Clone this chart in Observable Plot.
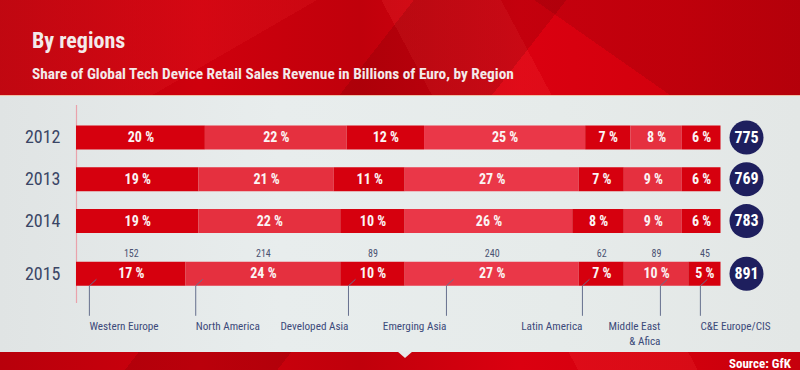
<!DOCTYPE html>
<html><head><meta charset="utf-8">
<script src="https://cdn.jsdelivr.net/npm/d3@7"></script>
<script src="https://cdn.jsdelivr.net/npm/@observablehq/plot@0.6"></script>
<style>
html,body{margin:0;padding:0;width:800px;height:370px;overflow:hidden;background:#c2000c;}
#page{position:relative;width:800px;height:370px;overflow:hidden;
  font-family:Roboto,"DejaVu Sans",sans-serif;font-stretch:75%;
  background:
    linear-gradient(128deg, transparent 0 38%, rgba(90,0,0,0.18) 38% 52%, transparent 52%),
    linear-gradient(62deg, transparent 0 58%, rgba(255,70,70,0.16) 58% 70%, transparent 70%),
    linear-gradient(150deg, rgba(255,60,60,0.12) 0 22%, transparent 22%),
    linear-gradient(35deg, transparent 0 80%, rgba(80,0,0,0.15) 80%),
    linear-gradient(90deg,#b8000b 0%,#cf000d 25%,#c0000b 45%,#db0010 65%,#d2000d 85%,#c6000c 100%);}
#panel{position:absolute;left:0;top:95px;width:800px;height:256px;
  background:linear-gradient(90deg,#e0e4e4 0%,#e8eded 35%,#e6ebea 70%,#e3e7e6 100%);
  border-top:1px solid #efbfa6;}
#notch{position:absolute;left:397px;top:351px;width:0;height:0;
  border-left:8px solid transparent;border-right:8px solid transparent;border-top:7px solid #e6eaea;}
#title{position:absolute;left:32px;top:28px;color:#f3eaea;font-weight:bold;font-size:22px;white-space:nowrap;}
#subtitle{position:absolute;left:32px;top:65px;color:#f3eaea;font-weight:bold;font-size:15.3px;white-space:nowrap;}
#source{position:absolute;left:729px;top:356px;color:#fff;font-weight:bold;font-size:13px;white-space:nowrap;}
#chart{position:absolute;left:0;top:0;}
#chart svg text{font-stretch:75%;}
</style></head>
<body>
<div id="page">
  <div id="panel"></div>
  <div id="notch"></div>
  <div id="title">By regions</div>
  <div id="subtitle">Share of Global Tech Device Retail Sales Revenue in Billions of Euro, by Region</div>
  <div id="source">Source: GfK</div>
  <div id="chart"></div>
</div>
<script>
// ---- data ----
const years = [2012, 2013, 2014, 2015];
const regions = ["Western Europe", "North America", "Developed Asia", "Emerging Asia", "Latin America", "Middle East\n& Afica", "C&E Europe/CIS"];
const share2012 = [20, 22, 12, 25, 7, 8, 6];
const share2013 = [19, 21, 11, 27, 7, 9, 6];
const share2014 = [19, 22, 10, 26, 8, 9, 6];
const share2015 = [17, 24, 10, 27, 7, 10, 5];
const totals = [775, 769, 783, 891];
const revenue2015 = [152, 214, 89, 240, 62, 89, 45];

// ---- layout (annotation placement, not data) ----
const leaderX = [2.0, 18.5, 42.2, 57.4, 78.5, 90.6, 96.8];
const labelAnchor = ["start", "start", "end", "end", "end", "end", "start"];
const segColors = ["#d6000e", "#e5303f", "#d6000e", "#ea3748", "#d6000e", "#e5303f", "#d6000e"];
const FONT = 'Roboto,"DejaVu Sans",sans-serif';
const extraGapBefore2015 = 0.26; // extra row spacing for the labelled 2015 row

const shares = [share2012, share2013, share2014, share2015];
const rows = years.flatMap((year, i) => {
  let acc = 0;
  return shares[i].map((v, j) => {
    const x1 = acc; acc += v;
    return {year, region: regions[j], idx: j, share: v, x1, x2: acc};
  });
});
const rows2015 = rows.filter(d => d.year === 2015).map(d => ({...d, revenue: revenue2015[d.idx]}));
const totalRows = years.map((year, i) => ({year, total: totals[i]}));
const leaders = regions.map((region, j) => ({region, year: 2015, lx: leaderX[j], anchor: labelAnchor[j]}));

const leaderSymbol = {
  draw(context) {
    context.moveTo(7, 5.5);
    context.lineTo(0, 12);
    context.lineTo(0, 42);
  }
};

const chart = Plot.plot({
  width: 800, height: 370,
  marginLeft: 76, marginRight: 79, marginTop: 105, marginBottom: 67,
  style: {background: "transparent", fontFamily: FONT},
  x: {domain: [0, 100], range: [76, 720.5], axis: null},
  y: {type: "linear", transform: yr => yr >= 2015 ? yr + extraGapBefore2015 : yr,
      domain: [2012, 2015 + extraGapBefore2015], range: [137, 273.3], axis: null},
  color: {domain: regions, range: segColors},
  marks: [
    Plot.ruleX([0], {stroke: "#eaa2ab", strokeWidth: 1.2}),
    Plot.ruleY(rows, {y: "year", x1: "x1", x2: "x2", stroke: "region", strokeWidth: 24}),
    Plot.text(rows, {x: d => (d.x1 + d.x2) / 2, y: "year", text: d => d.share + " %", fill: "#fbf4f4", fontWeight: "bold", fontSize: 14}),
    Plot.text(years, {x: () => 0, y: d => d, dx: -16, textAnchor: "end", text: d => String(d), fontSize: 18, fill: "#3a4565"}),
    Plot.dot(totalRows, {x: () => 100, y: "year", dx: 25.5, r: 17, fill: "#1e1f5e", stroke: "none"}),
    Plot.text(totalRows, {x: () => 100, y: "year", dx: 25.5, text: d => String(d.total), fill: "#ffffff", fontWeight: "bold", fontSize: 16}),
    Plot.text(rows2015, {x: d => (d.x1 + d.x2) / 2, y: "year", dy: -20, text: d => String(d.revenue), fontSize: 10, fill: "#4a5272"}),
    Plot.dot(leaders, {x: "lx", y: "year", symbol: leaderSymbol, fill: "none", stroke: "#66708e", strokeWidth: 1}),
    Plot.text(leaders.filter(d => d.anchor === "start"), {x: "lx", y: "year", dy: 45, text: "region", textAnchor: "start", lineAnchor: "top", fontSize: 11.2, fill: "#3c4a7a", lineHeight: 1.35}),
    Plot.text(leaders.filter(d => d.anchor === "end"), {x: "lx", y: "year", dy: 45, text: "region", textAnchor: "end", lineAnchor: "top", fontSize: 11.2, fill: "#3c4a7a", lineHeight: 1.35})
  ]
});
document.getElementById("chart").appendChild(chart);
</script>
</body></html>
